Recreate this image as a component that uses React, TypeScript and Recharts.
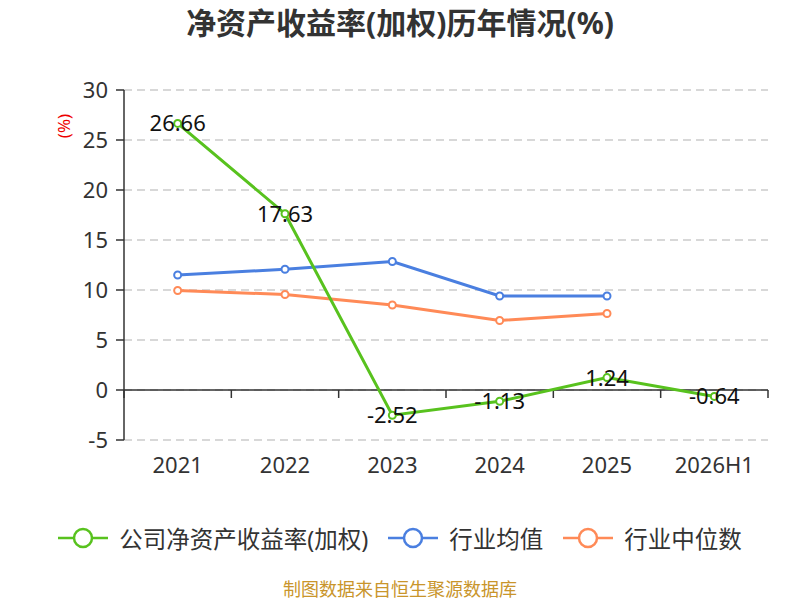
import { LineChart, Line, XAxis, YAxis, CartesianGrid, ReferenceLine, LabelList } from "recharts";

const years = ["2021", "2022", "2023", "2024", "2025", "2026H1"];
const companyRoe = [26.66, 17.63, -2.52, -1.13, 1.24, -0.64];
const industryAvg = [11.5, 12.07, 12.85, 9.4, 9.4, null];
const industryMedian = [9.95, 9.55, 8.5, 6.95, 7.65, null];
const yTicks = [-5, 0, 5, 10, 15, 20, 25, 30];

const series = [
  { key: "avg", name: "行业均值", color: "#4a7fe0" },
  { key: "median", name: "行业中位数", color: "#ff8a57" },
  { key: "roe", name: "公司净资产收益率(加权)", color: "#58c21e" },
];

const data = years.map((year, i) => ({
  year,
  roe: companyRoe[i],
  avg: industryAvg[i],
  median: industryMedian[i],
}));

const FONT = "'Noto Sans', 'Noto Sans CJK SC', sans-serif";

// zero axis line with tick marks at category boundaries
const ZeroAxis = (props: any) => {
  const { x1, x2, y1 } = props;
  const step = (x2 - x1) / years.length;
  const marks = [];
  for (let i = 0; i <= years.length; i++) {
    const x = x1 + i * step;
    marks.push(<line key={i} x1={x} x2={x} y1={y1} y2={y1 + 8} stroke="#333" strokeWidth={1.5} />);
  }
  return (
    <g>
      <line x1={x1} x2={x2} y1={y1} y2={y1} stroke="#333" strokeWidth={1.5} />
      {marks}
    </g>
  );
};

const ValueLabel = (props: any) => {
  const { x, y, value } = props;
  return (
    <text x={x} y={y - 1} textAnchor="middle" dominantBaseline="central" fontSize={22} fill="#111">
      {value}
    </text>
  );
};

const legendOrder = [series[2], series[0], series[1]];

export default function App() {
  return (
    <div style={{ position: "absolute", left: 0, top: 0, width: 800, height: 600, fontFamily: FONT, background: "#fff", overflow: "hidden" }}>
      <div
        style={{
          position: "absolute",
          top: 3,
          width: 800,
          textAlign: "center",
          fontSize: 30,
          fontWeight: "bold",
          color: "#333",
          lineHeight: "40px",
        }}
      >
        净资产收益率(加权)历年情况(%)
      </div>
      <LineChart width={800} height={600} data={data} margin={{ top: 90, right: 32, left: 0, bottom: 120 }}>
        <CartesianGrid vertical={false} stroke="#ccc" strokeDasharray="8 5" strokeWidth={1.5} />
        <XAxis
          dataKey="year"
          scale="band"
          axisLine={false}
          tickLine={false}
          height={40}
          tickSize={6}
          tickMargin={11}
          tick={{ fontSize: 22, fill: "#333" }}
        />
        <YAxis
          width={124}
          domain={[-5, 30]}
          ticks={yTicks}
          interval={0}
          axisLine={{ stroke: "#333", strokeWidth: 1.5 }}
          tickLine={{ stroke: "#333", strokeWidth: 1.5 }}
          tickSize={8}
          tickMargin={8}
          tick={{ fontSize: 22, fill: "#333" }}
        />
        <ReferenceLine y={0} shape={ZeroAxis} />
        {series.map((s) => (
          <Line
            key={s.key}
            dataKey={s.key}
            name={s.name}
            stroke={s.color}
            strokeWidth={3}
            dot={{ r: 3.5, fill: "#fff", stroke: s.color, strokeWidth: 2 }}
            isAnimationActive={false}
          >
            {s.key === "roe" && <LabelList dataKey="roe" content={ValueLabel} />}
          </Line>
        ))}
      </LineChart>
      <svg style={{ position: "absolute", left: 0, top: 0 }} width={800} height={600} pointerEvents="none">
        <text x={63} y={126} fill="#e00" fontSize={17} textAnchor="middle" dominantBaseline="central" transform="rotate(-90 63 126)">
          (%)
        </text>
        <text x={400} y={589} fill="#c9952b" fontSize={18} textAnchor="middle" dominantBaseline="central">
          制图数据来自恒生聚源数据库
        </text>
      </svg>
      <div
        style={{
          position: "absolute",
          top: 519,
          width: 800,
          display: "flex",
          justifyContent: "center",
          alignItems: "center",
          height: 38,
        }}
      >
        {legendOrder.map((s) => (
          <div key={s.key} style={{ display: "flex", alignItems: "center", margin: "0 10px" }}>
            <svg width={50} height={22}>
              <line x1={0} x2={50} y1={11} y2={11} stroke={s.color} strokeWidth={2.5} />
              <circle cx={25} cy={11} r={9} fill="#fff" stroke={s.color} strokeWidth={2.5} />
            </svg>
            <span style={{ marginLeft: 11, fontSize: 23.5, color: "#333" }}>{s.name}</span>
          </div>
        ))}
      </div>
    </div>
  );
}
